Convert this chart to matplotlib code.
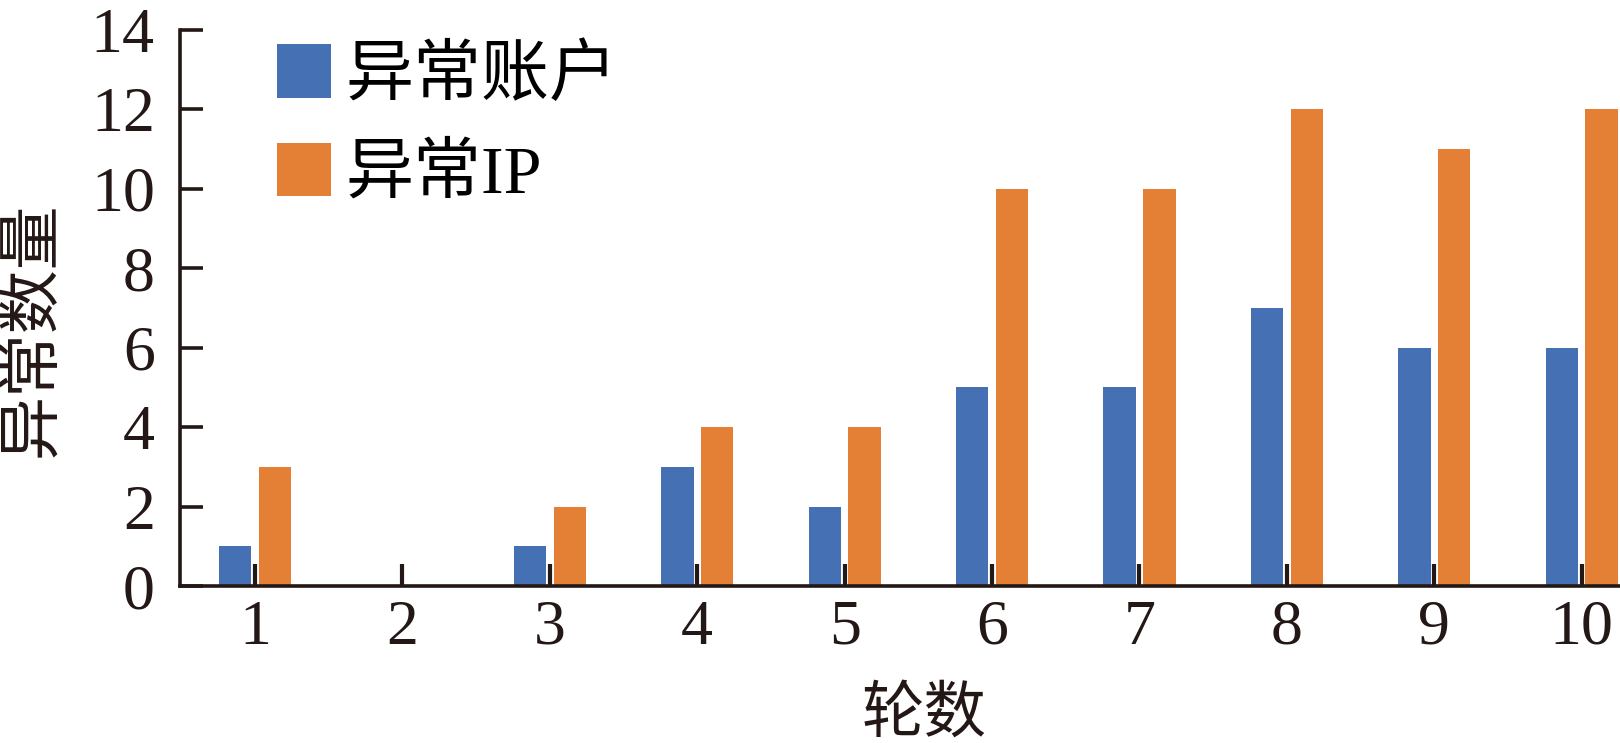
import numpy as np
import matplotlib
matplotlib.use('Agg')
import matplotlib.pyplot as plt

plt.rcParams['font.family'] = ['Liberation Serif', 'Noto Sans CJK SC']

rounds = ['1', '2', '3', '4', '5', '6', '7', '8', '9', '10']
abnormal_accounts = [1, 0, 1, 3, 2, 5, 5, 7, 6, 6]
abnormal_ips = [3, 0, 2, 4, 4, 10, 10, 12, 11, 12]
series_names = ['异常账户', '异常IP']
y_ticks = [0, 2, 4, 6, 8, 10, 12, 14]

ink = '#231815'
blue = '#4670B4'
orange = '#E48035'

fig = plt.figure(figsize=(16.2, 7.43), dpi=100)
ax = fig.add_axes([0.111, 0.2113, 0.889, 0.7487])

x = np.arange(1, len(rounds) + 1)
w = 0.22
ax.bar(x - 0.135, abnormal_accounts, w, color=blue, label=series_names[0])
ax.bar(x + 0.135, abnormal_ips, w, color=orange, label=series_names[1])

ax.set_xlim(0.49, 10.26)
ax.set_ylim(0, 14)
ax.set_xticks(x)
ax.set_xticklabels(rounds)
ax.set_yticks(y_ticks)

for s in ['top', 'right']:
    ax.spines[s].set_visible(False)
for s in ['left', 'bottom']:
    ax.spines[s].set_linewidth(2.6)
    ax.spines[s].set_color(ink)

ax.tick_params(axis='x', direction='in', length=16, width=3, color=ink,
               labelsize=46, labelcolor=ink, pad=10)
ax.tick_params(axis='y', direction='in', length=16.5, width=2.6, color=ink,
               labelsize=46, labelcolor=ink, pad=18)

ax.set_xlabel('轮数', fontsize=45, color=ink)
ax.xaxis.set_label_coords(0.517, -0.182)
ax.set_ylabel('异常数量', fontsize=46, color=ink)
ax.yaxis.set_label_coords(-0.08, 0.462)

ax.legend(loc='upper left', bbox_to_anchor=(277 / 1620, 1 - 44 / 743),
          bbox_transform=fig.transFigure, frameon=False,
          fontsize=49, handlelength=0.8, handleheight=0.84,
          handletextpad=0.2, labelspacing=0.5, borderaxespad=0, borderpad=0)

fig.savefig('out.png', dpi=100)
